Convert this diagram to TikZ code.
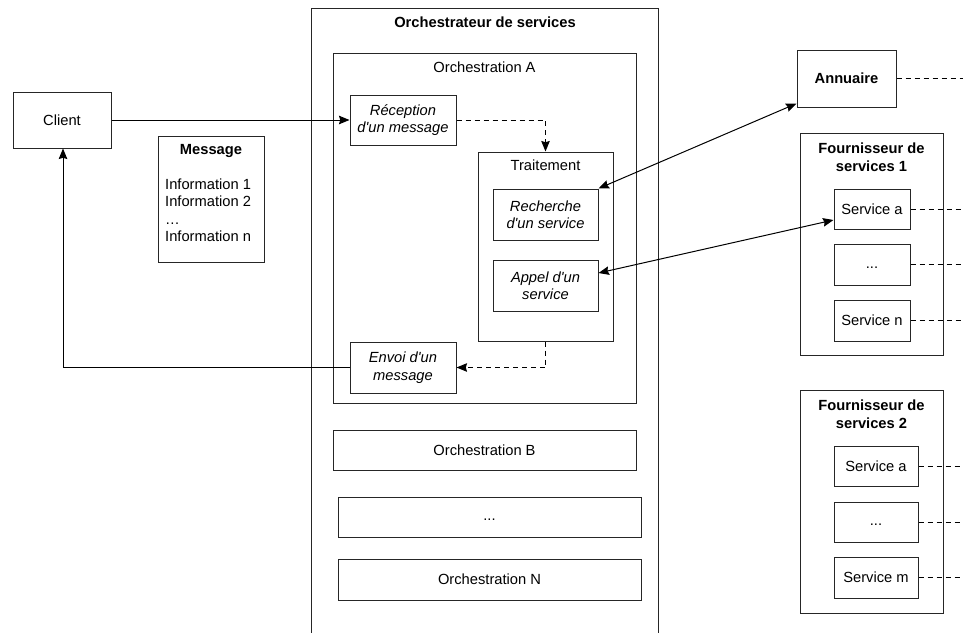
\documentclass[tikz,border=0pt]{standalone}
\usepackage{fontspec}
\setmainfont{Liberation Sans}
\usetikzlibrary{arrows.meta,positioning}

\newcommand\diagfont{\fontsize{14.7}{17.5}\selectfont}
\newcommand\apos{\textquotesingle}
\newcommand\etc{\strut...}

\tikzset{
  box/.style={draw=black!85, line width=1pt, rectangle, inner sep=0pt, align=center},
  title/.style={font=\diagfont\bfseries, align=center, inner sep=0pt},
  plain/.style={inner sep=0pt, align=center},
  ital/.style={font=\diagfont\itshape},
  arr/.style={draw=black, line width=1pt, -{Stealth[inset=1.2pt,length=10.5pt,width=8.5pt]}},
  biarr/.style={draw=black, line width=1pt, {Stealth[inset=1.2pt,length=10.5pt,width=8.5pt]}-{Stealth[inset=1.2pt,length=10.5pt,width=8.5pt]}},
  dashes/.style={draw=black, line width=1pt, dash pattern=on 5pt off 4pt},
  dasharr/.style={dashes, -{Stealth[inset=1.2pt,length=10.5pt,width=8.5pt]}},
}

\begin{document}
\begin{tikzpicture}[x=1pt, y=-1pt, font=\diagfont]
\useasboundingbox (0,0) rectangle (963,632);

% client side
\node[box, minimum width=98, minimum height=56] (client) at (62,120) {Client};
\node[box, minimum width=106, minimum height=126] (msg) at (211,199) {};
\node[title] (msgtitle) at (211,151) {Message};
\node[plain, anchor=west, align=left] (msgtext) at (165,210)
  {Information 1\\Information 2\\…\\Information n};

% orchestrator frame (open at the bottom)
\coordinate (obl) at (311,640);
\coordinate (otl) at (311,8);
\coordinate (otr) at (658,8);
\coordinate (obr) at (658,640);
\draw[line width=1pt, draw=black!85] (obl) -- (otl) -- (otr) -- (obr);
\node[title] (otitle) at (485,22) {Orchestrateur de services};

% orchestration A
\node[box, minimum width=303, minimum height=350] (orchA) at (484.5,228) {};
\node[plain] (orchAtitle) at (484.5,67) {Orchestration A};
\node[box, ital, minimum width=106, minimum height=50] (recep) at (403,120)
  {Réception\\d\apos un message};
\node[box, minimum width=135, minimum height=189] (trait) at (545.5,246.5) {};
\node[plain] (traittitle) at (545.5,165) {Traitement};
\node[box, ital, minimum width=105, minimum height=51] (rech) at (545.5,214.5)
  {Recherche\\d\apos un service};
\node[box, ital, minimum width=105, minimum height=51] (appel) at (545.5,285.5)
  {Appel d\apos un\\service};
\node[box, ital, minimum width=106, minimum height=51] (envoi) at (403,367.5)
  {Envoi d\apos un\\message};

% other orchestrations
\node[box, minimum width=303, minimum height=40] (orchB) at (484.5,450) {Orchestration B};
\node[box, minimum width=303, minimum height=40] (orchD) at (489.5,517) {\etc};
\node[box, minimum width=303, minimum height=41] (orchN) at (489.5,579.5) {Orchestration N};

% directory and providers
\node[box, title, minimum width=99, minimum height=57] (annu) at (846.5,78.5) {Annuaire};

\node[box, minimum width=143, minimum height=222] (f1) at (871.5,244) {};
\node[title] (f1title) at (871.5,157) {Fournisseur de\\services 1};
\node[box, minimum width=76, minimum height=40] (s1a) at (872,209) {Service a};
\node[box, minimum width=76, minimum height=41] (s1d) at (872,264.5) {\etc};
\node[box, minimum width=76, minimum height=41] (s1n) at (872,320.5) {Service n};

\node[box, minimum width=143, minimum height=223] (f2) at (871.5,501.5) {};
\node[title] (f2title) at (871.5,414) {Fournisseur de\\services 2};
\node[box, minimum width=84, minimum height=40] (s2a) at (876,466) {Service a};
\node[box, minimum width=84, minimum height=40] (s2d) at (876,522) {\etc};
\node[box, minimum width=84, minimum height=41] (s2m) at (876,577.5) {Service m};

% dashed links leaving to the right
\foreach \n in {annu,s1a,s1d,s1n,s2a,s2d,s2m}{
  \coordinate (\n-out) at (963,0 |- \n.east);
  \draw[dashes] (\n.east) -- (\n-out);
}

% flow inside the orchestrator
\draw[arr] (client.east) -- (recep.west);
\draw[dasharr] (recep.east) -| (trait.north);
\draw[dasharr] (trait.south) |- (envoi.east);
\draw[arr] (envoi.west) -| ([xshift=1pt]client.south);

% calls to the directory and to the provider
\draw[biarr] (rech.north east) -- ([yshift=4pt]annu.south west);
\draw[biarr] ([yshift=12.5pt]appel.east) -- ([yshift=-11pt]s1a.west);
\end{tikzpicture}
\end{document}
